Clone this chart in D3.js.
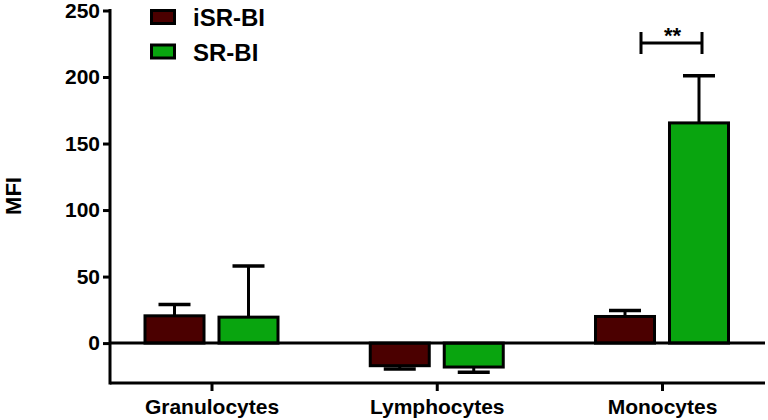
<!DOCTYPE html>
<html><head><meta charset="utf-8">
<script src="https://cdn.jsdelivr.net/npm/d3@7"></script>
<style>body{margin:0;background:#fff}svg{display:block;font-family:"Liberation Sans",Arial,sans-serif;font-weight:bold}</style>
</head><body>
<svg id="c" width="768" height="420"></svg>
<script>
const categories = ["Granulocytes","Lymphocytes","Monocytes"];
const series = ["iSR-BI","SR-BI"];
const colors = ["#4b0000","#09a50f"];
const meanISR = [20.5, -17, 20];
const errISR  = [29, -19.5, 24.5];
const meanSR  = [19.5, -18, 165.5];
const errSR   = [58, -22, 201];
const yTicks = [0,50,100,150,200,250];
const sigLabel = "**";

const svg = d3.select("#c");
const y = d3.scaleLinear().domain([-30,250]).range([383,10.5]);
const x0 = d3.scalePoint().domain(categories).range([211.5,662]);
const x1 = d3.scaleBand().domain(series).range([-68,68]).paddingInner(0.162);
const means = [meanISR, meanSR], errs = [errISR, errSR];
const bw = x1.bandwidth() - 3;
const FF = "Liberation Sans, Arial, sans-serif";

// y axis
const ya = svg.append("g").attr("transform","translate(110,0)")
  .call(d3.axisLeft(y).tickValues(yTicks).tickSize(7).tickSizeOuter(0).tickPadding(3));
ya.select(".domain").remove();
ya.selectAll(".tick line").attr("stroke","#000").attr("stroke-width",3);
ya.selectAll(".tick text").attr("font-size",21).attr("font-weight","bold").attr("fill","#000").attr("font-family",FF);
svg.append("line").attr("x1",110).attr("x2",110).attr("y1",y(250)-1.5).attr("y2",y(-30)+1.5).attr("stroke","#000").attr("stroke-width",3);

// x axis
const xa = svg.append("g").attr("transform",`translate(0,${y(-30)})`)
  .call(d3.axisBottom(x0).tickSize(8).tickSizeOuter(0).tickPadding(8));
xa.select(".domain").remove();
xa.selectAll(".tick line").attr("stroke","#000").attr("stroke-width",3);
xa.selectAll(".tick text").attr("font-size",21).attr("font-weight","bold").attr("fill","#000").attr("font-family",FF);
svg.append("line").attr("x1",110).attr("x2",765).attr("y1",y(-30)).attr("y2",y(-30)).attr("stroke","#000").attr("stroke-width",3);

// bars + error bars
series.forEach((s,si)=>{
  categories.forEach((c,ci)=>{
    const cx = x0(c) + x1(s) + x1.bandwidth()/2;
    const v = means[si][ci], e = errs[si][ci];
    svg.append("line").attr("x1",cx).attr("x2",cx).attr("y1",y(v)).attr("y2",y(e)).attr("stroke","#000").attr("stroke-width",3);
    svg.append("line").attr("x1",cx-16).attr("x2",cx+16).attr("y1",y(e)).attr("y2",y(e)).attr("stroke","#000").attr("stroke-width",3.5);
    svg.append("rect").attr("x",cx-bw/2).attr("width",bw)
      .attr("y",Math.min(y(v),y(0))).attr("height",Math.abs(y(v)-y(0)))
      .attr("fill",colors[si]).attr("stroke","#000").attr("stroke-width",3);
  });
});
// zero line
svg.append("line").attr("x1",110).attr("x2",765).attr("y1",y(0)).attr("y2",y(0)).attr("stroke","#000").attr("stroke-width",3);

// significance bracket
const bx1 = x0("Monocytes") - 21, bx2 = x0("Monocytes") + 40, by = 43;
svg.append("path").attr("d",`M${bx1},${by-11}V${by+11}M${bx1},${by}H${bx2}M${bx2},${by-11}V${by+11}`)
  .attr("fill","none").attr("stroke","#000").attr("stroke-width",3);
svg.append("text").attr("x",(bx1+bx2)/2+1).attr("y",by-0.5).attr("text-anchor","middle").attr("font-size",22).text(sigLabel);

// legend
series.forEach((s,i)=>{
  const ly = 17 + i*34.5;
  svg.append("rect").attr("x",151.5).attr("y",ly-6.5).attr("width",23).attr("height",13)
    .attr("fill",colors[i]).attr("stroke","#000").attr("stroke-width",3);
  svg.append("text").attr("x",193).attr("y",ly+9).attr("font-size",24).text(s);
});

// y label
svg.append("text").attr("transform","translate(21,196) rotate(-90)").attr("text-anchor","middle").attr("font-size",22).text("MFI");
</script>
</body></html>
